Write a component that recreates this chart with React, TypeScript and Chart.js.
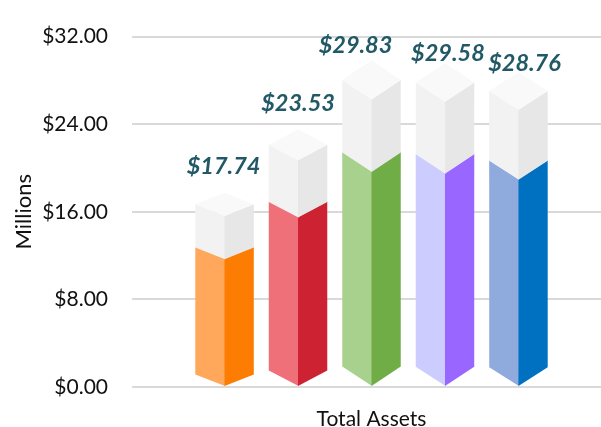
import React, { useEffect, useRef } from "react";
import { Chart, registerables } from "chart.js";

Chart.register(...registerables);

// ---- data ----
const categories = ["Total Assets"];
const barNames = ["A", "B", "C", "D", "E"];
const totalValues = [17.74, 23.53, 29.83, 29.58, 28.76];
const coloredValues = [12.78, 16.93, 21.46, 21.3, 20.7];
const yTicks = [0, 8, 16, 24, 32];

// ---- styles ----
const leftColors = ["#ffa75a", "#f0707a", "#a9d18e", "#ccccff", "#8faadc"];
const rightColors = ["#fd7c02", "#cc2232", "#70ad47", "#9966ff", "#0070c0"];
const greyLeft = "#f2f2f2";
const greyRight = "#e7e7e7";
const greyTop = "#f9f9f9";
const labelColor = "#215967";
const labelLift = [26, 26, 15, 10, 9];
const labelShift = [-1, 0, -16, 3, 6];
const FONT = "Lato, 'Open Sans', sans-serif";

function poly(ctx: CanvasRenderingContext2D, pts: number[][], color: string) {
  ctx.beginPath();
  ctx.moveTo(pts[0][0], pts[0][1]);
  for (let i = 1; i < pts.length; i++) ctx.lineTo(pts[i][0], pts[i][1]);
  ctx.closePath();
  ctx.fillStyle = color;
  ctx.fill();
}

const prismPlugin = {
  id: "prism",
  afterDraw(chart: any) {
    const ctx: CanvasRenderingContext2D = chart.ctx;
    const n = barNames.length;
    ctx.save();
    for (let i = 0; i < n; i++) {
      const cm = chart.getDatasetMeta(i).data[0];
      const gm = chart.getDatasetMeta(i + n).data[0];
      if (!cm || !gm) continue;
      const xc = cm.x;
      const w = cm.width;
      const xl = xc - w / 2;
      const xr = xc + w / 2;
      const y0 = cm.base;
      const yc = cm.y;
      const yt = gm.y;
      const d = 0.06 * (y0 - yt);
      // colored faces
      poly(ctx, [[xl, yc], [xc + 0.5, yc + d], [xc + 0.5, y0], [xl, y0 - d]], leftColors[i]);
      poly(ctx, [[xc, yc + d], [xr, yc], [xr, y0 - d], [xc, y0]], rightColors[i]);
      // grey faces
      poly(ctx, [[xl, yt + d], [xc + 0.5, yt + 2 * d], [xc + 0.5, yc + d + 0.5], [xl, yc + 0.5]], greyLeft);
      poly(ctx, [[xc, yt + 2 * d], [xr, yt + d], [xr, yc + 0.5], [xc, yc + d + 0.5]], greyRight);
      // top face
      poly(ctx, [[xl, yt + d], [xc, yt], [xr, yt + d], [xc, yt + 2 * d]], greyTop);
      // label
      ctx.font = `italic bold 23.5px ${FONT}`;
      ctx.fillStyle = labelColor;
      ctx.textAlign = "center";
      ctx.textBaseline = "middle";
      ctx.fillText("$" + totalValues[i].toFixed(2), xc + labelShift[i], yt - labelLift[i]);
    }
    ctx.restore();
  },
};

export default function App() {
  const ref = useRef<HTMLCanvasElement | null>(null);
  useEffect(() => {
    document.body.style.margin = "0";
    if (!ref.current) return;
    const n = barNames.length;
    const datasets: any[] = [];
    for (let i = 0; i < n; i++) {
      datasets.push({
        label: barNames[i],
        data: [coloredValues[i]],
        stack: "s" + i,
        backgroundColor: "rgba(0,0,0,0)",
        borderWidth: 0,
      });
    }
    for (let i = 0; i < n; i++) {
      datasets.push({
        label: barNames[i] + " rest",
        data: [+(totalValues[i] - coloredValues[i]).toFixed(2)],
        stack: "s" + i,
        backgroundColor: "rgba(0,0,0,0)",
        borderWidth: 0,
      });
    }
    const chart = new Chart(ref.current, {
      type: "bar",
      data: { labels: categories, datasets },
      options: {
        animation: false,
        responsive: true,
        maintainAspectRatio: false,
        layout: { padding: { top: 34, left: 0, right: 0, bottom: 0 } },
        plugins: { legend: { display: false }, tooltip: { enabled: false } },
        datasets: { bar: { categoryPercentage: 0.767, barPercentage: 0.796 } },
        scales: {
          x: {
            stacked: true,
            grid: { display: false, drawTicks: false },
            border: { display: false },
            ticks: { padding: 20, color: "#111", font: { family: FONT, size: 21 } },
            afterFit: (s: any) => { s.height = 40; },
          },
          y: {
            stacked: true,
            min: 0,
            max: 32,
            afterBuildTicks: (s: any) => { s.ticks = yTicks.map((v) => ({ value: v })); },
            grid: { color: "#d9d9d9", lineWidth: 2, drawTicks: false },
            border: { display: false },
            ticks: {
              padding: 24,
              color: "#111",
              font: { family: FONT, size: 21 },
              callback: (v: any) => "$" + Number(v).toFixed(2),
            },
            title: {
              display: true,
              text: "Millions",
              color: "#111",
              font: { family: FONT, size: 22 },
              padding: { top: 11, bottom: 0 },
            },
            afterFit: (s: any) => { s.width = 132; },
          },
        },
      },
      plugins: [prismPlugin],
    });
    return () => chart.destroy();
  }, []);
  return (
    <div style={{ position: "fixed", left: 0, top: 0, width: 601, height: 427, overflow: "hidden", background: "#fff" }}>
      <div style={{ position: "relative", width: 611, height: 427 }}>
        <canvas ref={ref} />
      </div>
    </div>
  );
}
